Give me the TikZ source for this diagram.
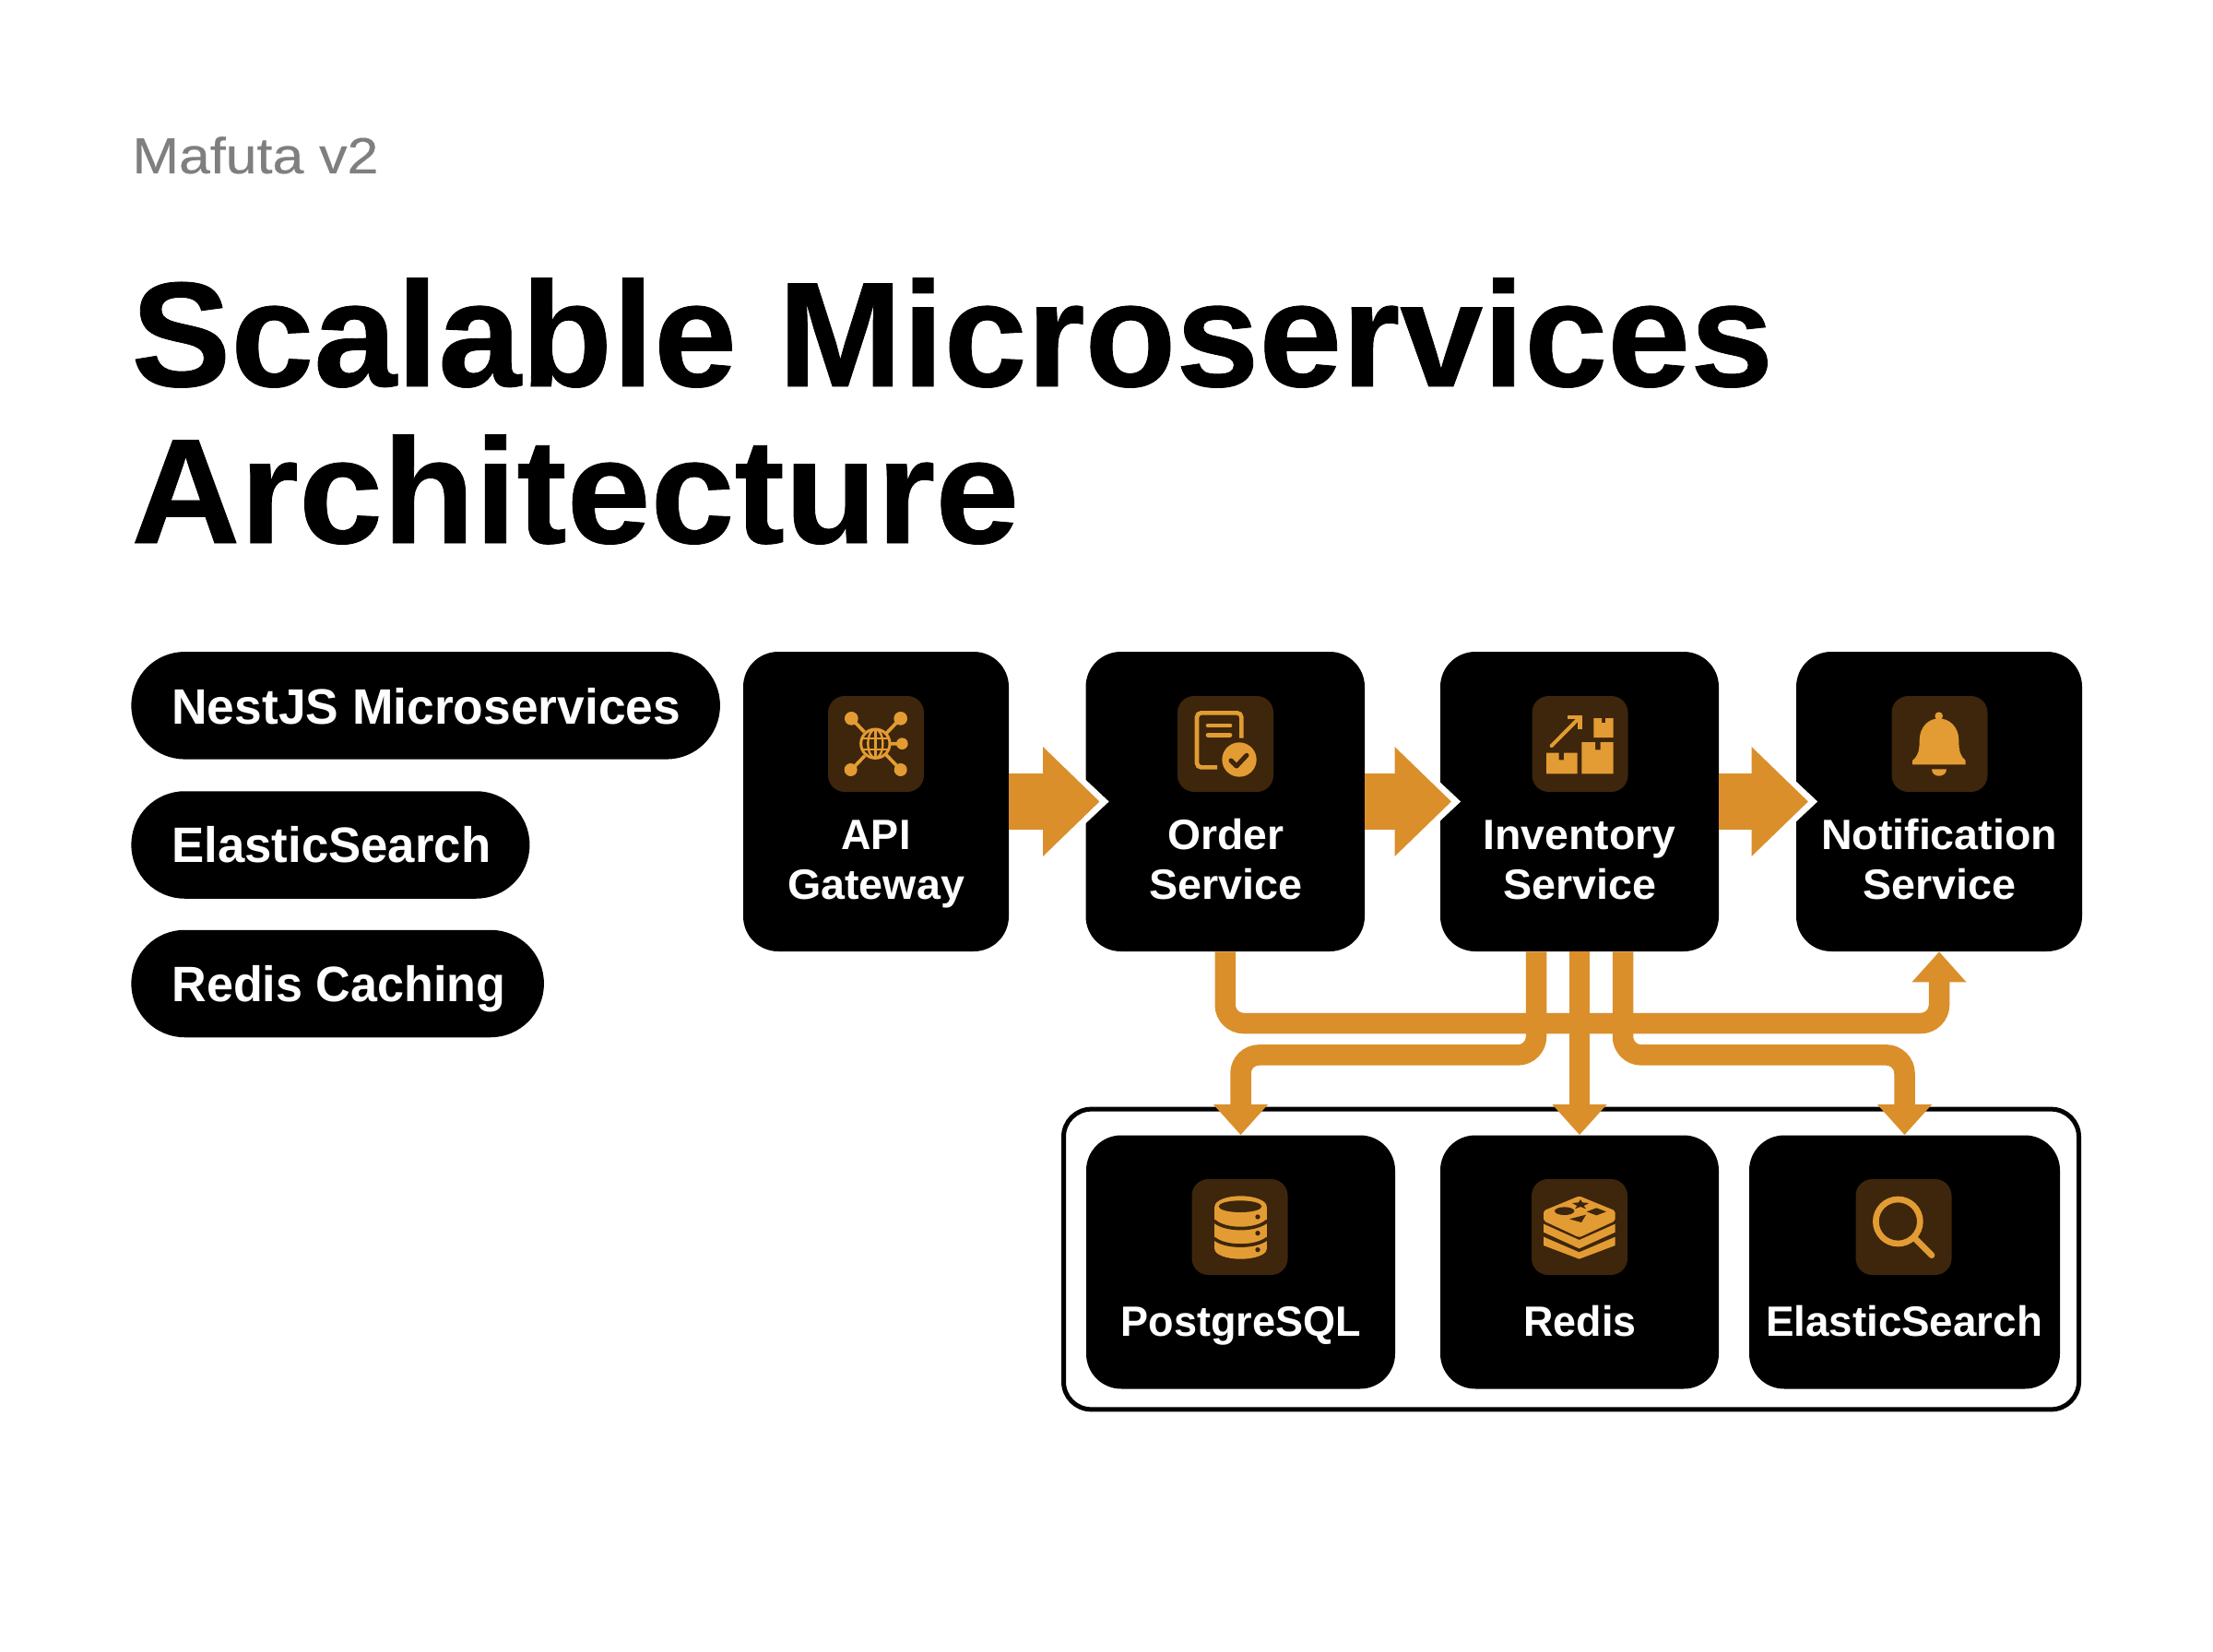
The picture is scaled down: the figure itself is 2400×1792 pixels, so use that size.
\documentclass[tikz,border=0pt]{standalone}
\usepackage{fontspec}
\usepackage{graphicx}
\usetikzlibrary{arrows.meta}
\setmainfont{Liberation Sans}
\newfontfamily\titlef{Liberation Sans Bold}[FakeBold=0.5]
\newfontfamily\subf{Liberation Sans}[FakeBold=0.3]
\definecolor{flowc}{HTML}{DA8F2B}
\definecolor{iconc}{HTML}{E39C33}
\definecolor{tilec}{HTML}{3D260C}
\definecolor{greyc}{HTML}{7F7F7F}
\newdimen\px \px=0.5pt
\newdimen\zu \zu=0.166667pt
\newsavebox\fitbox
% set text to a target width (in reference pixels), stretching only horizontally
\newcommand\fitw[2]{\sbox\fitbox{#2}\pgfmathsetmacro\fitr{#1*0.5/\the\wd\fitbox}\scalebox{\fitr}[1]{#2}}
\tikzset{
  card/.style={fill=black,inner sep=0pt,rounded corners=38\px},
  pill/.style={fill=black,inner sep=0pt,rounded corners=58\px,anchor=west},
  tile/.style={fill=tilec,inner sep=0pt,minimum width=104\px,minimum height=104\px,rounded corners=18\px},
  lbl/.style={text=white,inner sep=0pt,align=center,anchor=base,font=\bfseries\fontsize{23}{26.6}\selectfont},
  pilltxt/.style={text=white,inner sep=0pt,anchor=base west,font=\bfseries\fontsize{27}{30}\selectfont},
  flow/.style={draw=flowc,line width=22.5\px,rounded corners=20\px,-{Triangle[length=16.5pt,width=28.5pt,fill=flowc,color=flowc]}},
  bigflow/.style={draw=flowc,line width=61\px,-{Triangle[length=30.75pt,width=57.5pt,fill=flowc,color=flowc]}},
  bighalo/.style={draw=white,line width=1\px,-{Triangle[length=35.75pt,width=67pt,fill=white,color=white]}},
  zoomed/.style={x=\zu,y=-\zu},
}
\newcommand\bigarrow[3]{%
  \draw[bighalo,shorten >=-#3\px-10\px] (#1.east) -- (#2.west);
  \draw[bigflow,shorten >=-#3\px] (#1.east) -- (#2.west);
}
\begin{document}
\begin{tikzpicture}[x=0.5pt,y=-0.5pt]
\useasboundingbox (0,0) rectangle (2400,1792);
\fill[white] (0,0) rectangle (2400,1792);

% heading
\node[text=greyc,inner sep=0pt,anchor=base west,font=\subf\fontsize{27.5}{32}\selectfont] (sub) at (143,188) {\fitw{267}{Mafuta v2}};
\node[inner sep=0pt,anchor=base west,align=left,font=\titlef\fontsize{81}{85}\selectfont] (title) at (142,589) {\fitw{1781}{Scalable Microservices}\\\fitw{963}{Architecture}};

% pills
\node[pill,minimum width=638.5\px,minimum height=116.5\px] (p1) at (142,765.3) {};
\node[pill,minimum width=432\px,minimum height=116.5\px] (p2) at (142,916.5) {};
\node[pill,minimum width=447.5\px,minimum height=116.5\px] (p3) at (142,1067) {};
\node[pilltxt] (p1t) at (186,785) {\fitw{552}{NestJS Microservices}};
\node[pilltxt] (p2t) at (186,935.7) {\fitw{346}{ElasticSearch}};
\node[pilltxt] (p3t) at (186,1086) {\fitw{362}{Redis Caching}};

% store group
\node[draw=black,fill=white,line width=5\px,inner sep=0pt,rounded corners=30\px,minimum width=1101\px,minimum height=325.7\px] (group) at (1704,1366) {};

% cards
\node[card,minimum width=288\px,minimum height=325\px] (api) at (950,869.5) {};
\node[card,minimum width=302.5\px,minimum height=325\px] (order) at (1328.75,869.5) {};
\node[card,minimum width=302\px,minimum height=325\px] (inv) at (1713,869.5) {};
\node[card,minimum width=310\px,minimum height=325\px] (notif) at (2103,869.5) {};
\node[card,minimum width=335\px,minimum height=275\px] (pg) at (1345.5,1369) {};
\node[card,minimum width=302\px,minimum height=275\px] (redis) at (1713,1369) {};
\node[card,minimum width=337\px,minimum height=275\px] (es) at (2065.5,1369) {};

% icon tiles
\node[tile] (t1) at (950,807) {};
\node[tile] (t2) at (1329,807) {};
\node[tile] (t3) at (1713.5,807) {};
\node[tile] (t4) at (2103.5,807) {};
\node[tile] (t5) at (1344.5,1331) {};
\node[tile] (t6) at (1713,1331) {};
\node[tile] (t7) at (2064.5,1331) {};

% API icon
\begin{scope}[shift={(880,740)},zoomed]
  \draw[iconc,line width=11\zu] (130,118)--(290,285) (290,118)--(130,285) (205,200)--(295,200);
  \fill[tilec] (205,200) circle (50);
  \fill[iconc] (130,118) circle (22) (290,118) circle (22) (295,200) circle (19) (128,285) circle (21) (290,285) circle (21);
  \draw[iconc,line width=9\zu] (208,200) circle (47);
  \draw[iconc,line width=7\zu] (208,153)--(208,247) (165,182)--(251,182) (165,218)--(251,218);
  \draw[iconc,line width=7\zu] (208,200) ellipse (24 and 47);
\end{scope}

% order icon
\begin{scope}[shift={(1260,740)},zoomed]
  \draw[iconc,line width=14\zu,rounded corners=14\zu] (259,182)--(259,100)--(114,100)--(114,277)--(180,277);
  \draw[iconc,line width=14\zu,line cap=round] (150,141)--(222,141) (150,172)--(222,172);
  \fill[iconc] (252,252) circle (56);
  \draw[tilec,line width=15\zu,line cap=round,line join=round] (225,255)--(243,273)--(276,238);
\end{scope}

% inventory icon
\begin{scope}[shift={(1640,740)},zoomed]
  \draw[iconc,line width=12\zu,line cap=round] (128,207)--(218,116);
  \draw[iconc,line width=14\zu] (180,114)--(221,114)--(221,153);
  \fill[iconc] (265,117)--(291,117)--(291,132)--(303,132)--(303,117)--(329,117)--(329,180)--(265,180)--cycle;
  \fill[iconc] (226,195)--(270,195)--(270,220)--(287,220)--(287,195)--(329,195)--(329,298)--(226,298)--cycle;
  \fill[iconc] (111,230)--(152,230)--(152,253)--(168,253)--(168,230)--(212,230)--(212,298)--(111,298)--cycle;
\end{scope}

% bell icon
\begin{scope}[shift={(2030,740)},zoomed]
  \fill[iconc] (218,110) circle (13);
  \fill[iconc] (132,268)--(132,255) .. controls (150,240) and (155,225) .. (155,190) .. controls (155,145) and (185,118) .. (218,118) .. controls (252,118) and (283,145) .. (283,190) .. controls (283,225) and (288,240) .. (305,255)--(305,268)--cycle;
  \fill[iconc] (195,283)--(243,283) .. controls (243,298) and (230,305) .. (219,305) .. controls (207,305) and (195,298) .. (195,283)--cycle;
\end{scope}

% database icon
\begin{scope}[shift={(1275,1265)},zoomed]
  \fill[iconc] (127,131) rectangle (296,270);
  \fill[iconc] (211.5,131) ellipse (84.5 and 34);
  \fill[iconc] (211.5,270) ellipse (84.5 and 32);
  \fill[tilec] (210,131) ellipse (70 and 19);
  \draw[tilec,line width=11\zu] (125,178) .. controls (160,211) and (262,211) .. (298,178);
  \draw[tilec,line width=11\zu] (125,235) .. controls (160,266) and (262,266) .. (298,235);
  \fill[tilec] (267,165) circle (8) (267,218) circle (8) (267,272) circle (8);
\end{scope}

% redis icon
\begin{scope}[shift={(1640,1265)},zoomed]
  \fill[iconc,rounded corners=6\zu] (102,145)--(218,97)--(335,145)--(335,178)--(218,232)--(102,178)--cycle;
  \fill[iconc] (102,188)--(218,240)--(335,188)--(335,215)--(218,268)--(102,215)--cycle;
  \fill[iconc] (102,230)--(218,280)--(335,230)--(335,258)--(218,302)--(102,258)--cycle;
  \fill[tilec] (170,146) ellipse (32 and 13);
  \fill[tilec] (222,108)--(228,118)--(250,120)--(233,129)--(240,139)--(222,132)--(204,139)--(211,129)--(195,120)--(216,118)--cycle;
  \fill[tilec] (274,136)--(306,148)--(274,160)--(242,148)--cycle;
  \fill[tilec] (186,172)--(240,158)--(225,183)--cycle;
\end{scope}

% search icon
\begin{scope}[shift={(1995,1265)},zoomed]
  \draw[iconc,line width=20\zu] (190,180) circle (72);
  \draw[iconc,line width=20\zu,line cap=round] (245,235)--(300,290);
\end{scope}

% labels
\node[lbl] (l1) at (950,975) {\fitw{75}{API}\\\fitw{192}{Gateway}};
\node[lbl] (l2) at (1329,975) {\fitw{126}{Order}\\\fitw{166}{Service}};
\node[lbl] (l3) at (1713,975) {\fitw{209}{Inventory}\\\fitw{166}{Service}};
\node[lbl] (l4) at (2103,975) {\fitw{256}{Notification}\\\fitw{166}{Service}};
\node[lbl] (l5) at (1345.5,1449.8) {\fitw{260}{PostgreSQL}};
\node[lbl] (l6) at (1713.5,1449.8) {\fitw{122}{Redis}};
\node[lbl] (l7) at (2065,1449.8) {\fitw{300}{ElasticSearch}};

% connectors
\coordinate (busA) at (0,1110);
\coordinate (busB) at (0,1144.4);
\coordinate (invL) at ([xshift=-47\px]inv.south);
\coordinate (invR) at ([xshift=47\px]inv.south);
\bigarrow{api}{order}{15.5}
\bigarrow{order}{inv}{12.5}
\bigarrow{inv}{notif}{13.5}
\draw[flow] (order.south) -- (order.south |- busA) -- (notif.south |- busA) -- (notif.south);
\draw[flow] (invL) -- (invL |- busB) -- (pg.north |- busB) -- (pg.north);
\draw[flow] (inv.south) -- (redis.north);
\draw[flow] (invR) -- (invR |- busB) -- (es.north |- busB) -- (es.north);
\end{tikzpicture}
\end{document}
